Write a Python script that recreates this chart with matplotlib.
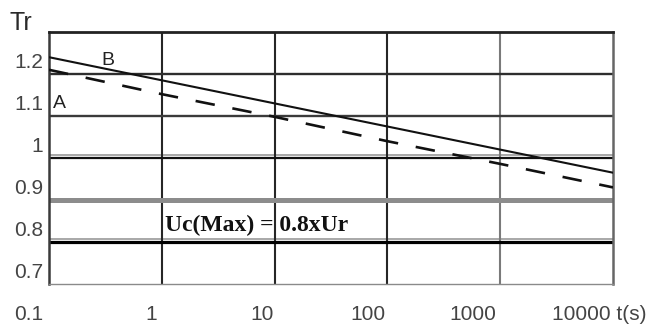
import matplotlib
matplotlib.use("Agg")
import matplotlib.pyplot as plt
from matplotlib.transforms import ScaledTranslation, offset_copy

# Axis decades and labels
t_ticks = [0.1, 1, 10, 100, 1000, 10000]
t_labels = ["0.1", "1", "10", "100", "1000", "10000 t(s)"]
tr_ticks = [0.7, 0.8, 0.9, 1.0, 1.1, 1.2]
tr_labels = ["0.7", "0.8", "0.9", "1", "1.1", "1.2"]
tr_top = 1.3

# TOV capability curves (Tr versus time)
t_curve = [0.1, 1, 10, 100, 1000, 10000]
tr_a = [1.21, 1.152, 1.098, 1.04, 0.986, 0.93]
tr_b = [1.24, 1.185, 1.13, 1.075, 1.02, 0.965]

uc_level = 0.8

SANS = ["Liberation Sans", "DejaVu Sans"]
SERIF = ["Liberation Serif", "DejaVu Serif"]
LABEL_COLOR = "#444444"

fig = plt.figure(figsize=(6.5, 3.25), dpi=100)
ax = fig.add_axes([49 / 650, 41 / 325, 564 / 650, 252 / 325])
ax.set_xscale("log")
ax.set_xlim(t_ticks[0], t_ticks[-1])
ax.set_ylim(tr_ticks[0], tr_top)

# Frame
ax.spines["top"].set_color("#222222")
ax.spines["top"].set_linewidth(2.0)
ax.spines["left"].set_color("#3a3a3a")
ax.spines["left"].set_linewidth(1.8)
ax.spines["right"].set_color("#666666")
ax.spines["right"].set_linewidth(1.8)
ax.spines["bottom"].set_color("#8a8a8a")
ax.spines["bottom"].set_linewidth(1.0)

# Vertical grid at each decade
v_styles = {1: ("#262626", 1.5), 10: ("#262626", 1.5), 100: ("#262626", 1.5),
            1000: ("#7a7a7a", 1.5)}
for t in t_ticks[1:-1]:
    c, lw = v_styles[t]
    ax.axvline(t, color=c, lw=lw, zorder=1)

# Horizontal grid lines
h_styles = {1.2: ("#2e2e2e", 1.7), 1.1: ("#3a3a3a", 1.7), 1.0: ("#111111", 1.6),
            0.9: ("#8c8c8c", 3.6), 0.8: ("#000000", 2.3)}
for v in tr_ticks[1:]:
    c, lw = h_styles[v]
    ax.axhline(v, color=c, lw=lw, zorder=1)

# light shadow just above the 1.0 and Uc lines
halo = offset_copy(ax.get_yaxis_transform(), fig=fig, x=0, y=2.6, units="dots")
for v in (1.0, uc_level):
    ax.plot([0, 1], [v, v], transform=halo, color="#9a9a9a", lw=1.2, zorder=0.9,
            solid_capstyle="butt")

# Curves
ax.plot(t_curve, tr_b, color="#111111", lw=1.5, zorder=3)
ax.plot(t_curve, tr_a, color="#111111", lw=1.9, zorder=3,
        linestyle=(0, (7.4, 6.8)))

# Curve names and level annotation
ax.annotate("B", (0.33, 1.231), ha="center", va="center", fontsize=14,
            family=SANS, color="#222222", zorder=4)
ax.annotate("A", (t_ticks[0], 1.13), xytext=(3, 0), textcoords="offset points",
            ha="left", va="center", fontsize=14, family=SANS, color="#222222", zorder=4)
ax.annotate("Uc(Max) = 0.8xUr", (1, uc_level), xytext=(2.5, 4),
            textcoords="offset points", ha="left", va="bottom", fontsize=17,
            family=SERIF, fontweight="bold", color="#111111", zorder=4)

# Ticks
ax.set_xticks(t_ticks)
ax.set_xticklabels(t_labels)
ax.set_yticks(tr_ticks)
ax.set_yticklabels(tr_labels)
ax.minorticks_off()
ax.tick_params(axis="x", length=0, pad=15, labelsize=15, labelcolor=LABEL_COLOR)
ax.tick_params(axis="y", length=0, pad=4, labelsize=15, labelcolor=LABEL_COLOR)
for lab in ax.get_xticklabels() + ax.get_yticklabels():
    lab.set_family(SANS)

x_shift = [-20, -11, -12.5, -19.5, -27, -14]
for lab, dx in zip(ax.get_xticklabels(), x_shift):
    lab.set_transform(lab.get_transform() + ScaledTranslation(dx / 100, 0, fig.dpi_scale_trans))
for lab in ax.get_yticklabels():
    lab.set_transform(lab.get_transform() + ScaledTranslation(0, 13.5 / 100, fig.dpi_scale_trans))

fig.text(10 / 650, 1 - 23 / 325, "Tr", ha="left", va="center", fontsize=18,
         family=SANS, color="#2a2a2a")

fig.savefig("out.png", dpi=100, facecolor="white")
